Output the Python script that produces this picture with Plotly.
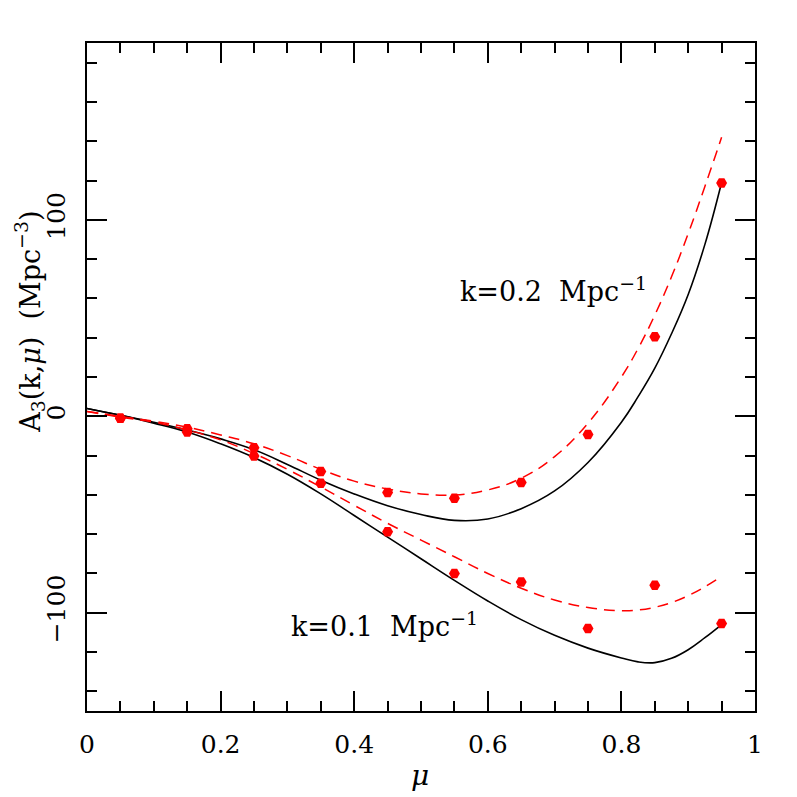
import plotly.graph_objects as go

# measured points (red hexagons)
mu_pts = [0.05, 0.15, 0.25, 0.35, 0.45, 0.55, 0.65, 0.75, 0.85, 0.95]
pts_k01 = [-1, -8, -20.2, -34.1, -58.8, -80, -84.3, -108, -86, -105.5]
pts_k02 = [-1, -6.3, -16, -28.1, -38.8, -41.7, -33.7, -9.3, 40.5, 118.8]

# model curves
mu_curve = [0, 0.05, 0.1, 0.15, 0.2, 0.25, 0.3, 0.35, 0.4, 0.45, 0.5,
            0.55, 0.6, 0.65, 0.7, 0.75, 0.8, 0.825, 0.85, 0.875, 0.9, 0.925, 0.95]
solid_k02 = [4, 0.5, -3, -7, -11.5, -17, -24.5, -32.5, -39.5, -45.5, -50,
             -53, -52.3, -47, -38, -23.5, -3, 10, 24.5, 42, 62, 87.5, 119]
dash_k02 = [2.5, 0, -2.5, -5.5, -9.5, -14, -20, -27, -33, -37, -39.5,
            -40, -37.5, -31.5, -20.5, -3.5, 20, 34.5, 51.5, 71, 93, 117, 142]
solid_k01 = [4, 0.5, -3.5, -8, -14, -21, -29.5, -39.5, -50.5, -61.5, -72.5,
             -83.5, -94, -103.5, -111.5, -118, -123, -125, -125.4, -123.2, -118.8, -112.7, -106]
dash_k01 = [2.5, -0.5, -3, -7, -12, -19, -27, -36, -45.3, -54.5, -63,
            -71.5, -80, -87.5, -93.5, -97.3, -99, -98.6, -97.2, -94.8, -91.3, -86.8, -81.5]

x_ticks = [0, 0.2, 0.4, 0.6, 0.8, 1]
x_labels = ["0", "0.2", "0.4", "0.6", "0.8", "1"]
y_ticks = [-100, 0, 100]
y_labels = ["\u2212100", "0", "100"]

font_name = "DejaVu Serif"

fig = go.Figure()
for ys in (solid_k01, solid_k02):
    fig.add_trace(go.Scatter(x=mu_curve, y=ys, mode="lines", line_shape="spline",
                             line=dict(color="black", width=1.6, smoothing=1.2)))
for ys in (dash_k01, dash_k02):
    fig.add_trace(go.Scatter(x=mu_curve, y=ys, mode="lines", line_shape="spline",
                             line=dict(color="red", width=1.5, dash="11px,7px", smoothing=1.2)))
for ys in (pts_k01, pts_k02):
    fig.add_trace(go.Scatter(x=mu_pts, y=ys, mode="markers",
                             marker=dict(symbol="hexagon2", size=11, color="red")))

axis_style = dict(showgrid=False, zeroline=False, showline=True, linecolor="black",
                  linewidth=2, mirror="allticks", ticks="inside", ticklen=20,
                  tickwidth=1.5, tickcolor="black",
                  tickfont=dict(family=font_name, size=25, color="black"))

fig.update_xaxes(range=[0, 1], tickvals=x_ticks, ticktext=x_labels,
                 minor=dict(dtick=0.05, tick0=0, ticks="inside", ticklen=10,
                            tickwidth=1.5, tickcolor="black"),
                 ticklabelstandoff=10, **axis_style)
fig.update_yaxes(range=[-150, 190], tickvals=y_ticks, ticktext=y_labels, tickangle=-90,
                 minor=dict(dtick=20, tick0=0, ticks="inside", ticklen=10,
                            tickwidth=1.5, tickcolor="black"),
                 ticklabelstandoff=10, **axis_style)

# page body adds an 8px offset, so the figure is drawn 8px smaller
fig.add_annotation(x=0.4985, y=-0.096, xref="paper", yref="paper", showarrow=False,
                   xanchor="center", yanchor="middle",
                   text="<i>\u03bc</i>", font=dict(family=font_name, size=28, color="black"))
fig.add_annotation(x=-0.086, y=0.582, xref="paper", yref="paper", showarrow=False,
                   xanchor="center", yanchor="middle", textangle=-90,
                   text="A<sub>3</sub>(k,<i>\u03bc</i>)  (Mpc<sup>\u22123</sup>)",
                   font=dict(family=font_name, size=27, color="black"))
fig.add_annotation(x=0.698, y=64.6, xref="x", yref="y", showarrow=False,
                   text="k=0.2  Mpc<sup>\u22121</sup>",
                   font=dict(family=font_name, size=27, color="black"))
fig.add_annotation(x=0.446, y=-105.8, xref="x", yref="y", showarrow=False,
                   text="k=0.1  Mpc<sup>\u22121</sup>",
                   font=dict(family=font_name, size=27, color="black"))

fig.update_layout(width=789, height=789, showlegend=False,
                  margin=dict(l=79, r=42, t=35, b=86),
                  paper_bgcolor="white", plot_bgcolor="white")

fig.write_html("out.html")
